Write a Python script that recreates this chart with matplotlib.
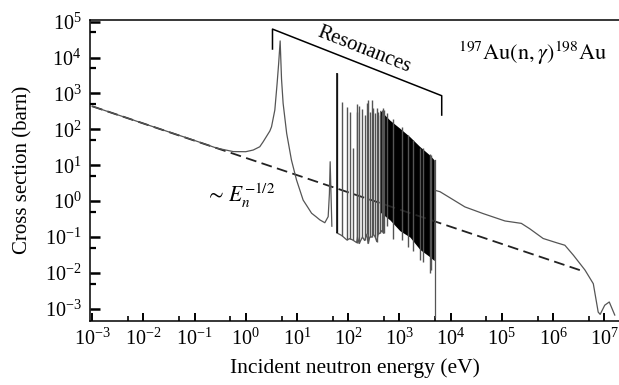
import math

import matplotlib

matplotlib.use("Agg")
import matplotlib.pyplot as plt
from matplotlib.ticker import FixedLocator, LogFormatterMathtext, NullFormatter

plt.rcParams["font.family"] = ["Liberation Serif", "DejaVu Serif"]
plt.rcParams["mathtext.fontset"] = "stix"

# smooth part below the resolved resonances (eV, barn)
low_E = [1e-3, 1e-2, 0.1, 0.27, 0.57, 1.0, 1.4, 1.88, 2.19, 2.96, 3.19, 3.7, 4.1,
         4.4, 4.7, 5.0, 5.37, 6.3, 7.8, 9.8, 13.2, 16, 19.3, 24, 28, 35, 40.7,
         43, 44.5, 48]
low_sigma = [440, 146, 49, 30, 24, 23.8, 26.5, 32.7, 45, 90, 118, 345, 1900,
             7000, 29000, 2500, 530, 77, 14, 3.9, 1.07, 0.7, 0.46, 0.36, 0.30,
             0.25, 0.37, 1.6, 12.5, 0.2]

# resolved resonances: energy, peak and foot of each spike
res_E = [60.3, 75, 94, 107, 122, 146, 152, 164, 190, 209, 232, 245, 265, 290,
         310, 337, 360, 385, 422, 450, 490]
res_peak = [3600, 580, 420, 300, 30, 500, 300, 445, 370, 250, 530, 650, 300, 670,
            385, 280, 385, 300, 250, 345, 345]
res_low = [0.13, 0.11, 0.083, 0.09, 0.083, 0.07, 0.1, 0.066, 0.1, 0.08, 0.12,
           0.066, 0.1, 0.1, 0.12, 0.1, 0.075, 0.12, 0.13, 0.15, 0.13]

# dense band (envelope of the black area)
dense_E = [416, 651, 1020, 1600, 2510, 3940, 4780]
dense_high = [345, 180, 107, 62, 33, 19, 14]
dense_low = [0.5, 0.3, 0.15, 0.1, 0.045, 0.028, 0.022]

# gray spikes sticking out of the dense band
spike_E = [485, 560, 760, 1100, 1500, 1850, 2500, 2900, 3900, 4200]
spike_high = [385, 280, 200, 118, 70, 50, 30, 30, 20, 19]
spike_low = [0.13, 0.2, 0.09, 0.08, 0.053, 0.04, 0.023, 0.02, 0.01, 0.012]

# edge of the resonance region
edge_E = [4900, 4900]
edge_sigma = [14, 6e-4]

# smooth part above the resonances
high_E = [4950, 6200, 9700, 1.9e4, 4.3e4, 1.15e5, 2.4e5, 3.5e5, 6.4e5, 1.18e6,
          1.7e6, 2.5e6, 4.2e6, 6.1e6, 7.6e6, 8.3e6, 1.02e7, 1.25e7, 1.6e7]
high_sigma = [2.0, 1.83, 1.24, 0.69, 0.45, 0.28, 0.24, 0.17, 0.091, 0.069,
              0.059, 0.031, 0.012, 0.005, 8.1e-4, 7e-4, 1.26e-3, 1.55e-3, 6.7e-4]

# 1/v reference line
dash_E = [1e-3, 4.2e6]
dash_sigma = [440, 0.0107]

# "Resonances" bracket
bracket_E = [3.33, 3.33, 6.7e3, 6.7e3]
bracket_sigma = [1.73e4, 6.2e4, 863, 250]

# ticks
x_major = [1e-3, 1e-2, 1e-1, 1e0, 1e1, 1e2, 1e3, 1e4, 1e5, 1e6, 1e7]
x_minor = [5e-3, 5e-2, 5e-1, 5e0, 5e1, 5e2, 5e3, 5e4, 5e5, 5e6]
y_major = [1e-3, 1e-2, 1e-1, 1e0, 1e1, 1e2, 1e3, 1e4, 1e5]
y_minor = [5e-3, 5e-2, 5e-1, 5e0, 5e1, 5e2, 5e3, 5e4]

curve_color = "#555555"

fig = plt.figure(figsize=(6.19, 3.85), dpi=100)
ax = fig.add_axes([0.1454, 0.1675, 0.8546, 0.7805])
ax.set_xscale("log")
ax.set_yscale("log")
ax.set_xlim(10 ** -3.04, 10 ** 7.287)
ax.set_ylim(10 ** -3.326, 10 ** 5.045)

ax.plot(dash_E, dash_sigma, color="#222222", lw=1.3, ls=(0, (6, 3)))

ax.plot(low_E, low_sigma, color=curve_color, lw=0.9)
ax.plot(res_E, res_low, color=curve_color, lw=0.9)
ax.vlines(res_E, res_low, res_peak, color=curve_color, lw=1.0)
ax.vlines(res_E[0], res_low[0], res_peak[0], color="black", lw=1.1)
ax.fill_between(dense_E, dense_low, dense_high, color="black", lw=0)
ax.vlines(spike_E, spike_low, spike_high, color=curve_color, lw=1.0)
ax.plot(edge_E, edge_sigma, color=curve_color, lw=0.9)
ax.plot(high_E, high_sigma, color=curve_color, lw=0.9)

ax.plot(bracket_E, bracket_sigma, color="black", lw=1.1)
fig.canvas.draw()
p1 = ax.transData.transform((bracket_E[1], bracket_sigma[1]))
p2 = ax.transData.transform((bracket_E[2], bracket_sigma[2]))
angle = math.degrees(math.atan2(p2[1] - p1[1], p2[0] - p1[0]))
ax.text(203, 1.62e4, "Resonances", rotation=angle, rotation_mode="anchor",
        ha="center", va="center", fontsize=15)

ax.text(1.38e4, 1.33e4, r"$^{197}\mathrm{Au}(\mathrm{n},\gamma)^{198}\mathrm{Au}$",
        ha="left", va="center", fontsize=16)
ax.text(0.16, 1.39, r"$\sim\, E_n^{-1/2}$", ha="left", va="center", fontsize=15.5)

ax.xaxis.set_major_locator(FixedLocator(x_major))
ax.xaxis.set_minor_locator(FixedLocator(x_minor))
ax.yaxis.set_major_locator(FixedLocator(y_major))
ax.yaxis.set_minor_locator(FixedLocator(y_minor))
for axis in (ax.xaxis, ax.yaxis):
    axis.set_major_formatter(LogFormatterMathtext())
    axis.set_minor_formatter(NullFormatter())

ax.tick_params(axis="x", which="major", direction="in", length=6, width=1.4,
               labelsize=14.5, pad=6, top=False)
ax.tick_params(axis="x", which="minor", direction="in", length=3.5, width=1.2, top=False)
ax.tick_params(axis="y", which="major", direction="in", length=7, width=1.8,
               labelsize=14.5, pad=6, right=False)
ax.tick_params(axis="y", which="minor", direction="in", length=4, width=1.6, right=False)

ax.spines["right"].set_visible(False)
for side in ("top", "left", "bottom"):
    ax.spines[side].set_linewidth(1.1)

ax.set_xlabel("Incident neutron energy (eV)", fontsize=15.5, labelpad=6)
ax.set_ylabel("Cross section (barn)", fontsize=15, labelpad=9)

fig.savefig("out.png", dpi=100)
